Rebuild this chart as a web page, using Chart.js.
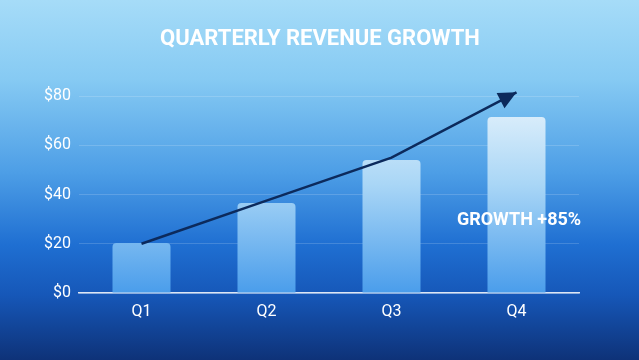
<!DOCTYPE html>
<html>
<head>
<meta charset="utf-8">
<script src="https://cdn.jsdelivr.net/npm/chart.js@4"></script>
<style>
    html, body { margin: 0; padding: 0; }
    body {
        width: 639px; height: 360px; overflow: hidden;
        background: linear-gradient(to bottom, #a6dcf8 0%, #86caf3 22%, #4d9ee6 48%, #1f6fd2 68%, #1657b8 82%, #0e3278 100%);
    }
    canvas { display: block; }
</style>
</head>
<body>
<canvas id="myChart" width="639" height="360"></canvas>
<script>
const quarters = ['Q1', 'Q2', 'Q3', 'Q4'];
const revenue = [20.3, 36.5, 54, 71.5];
const trend = [20, 37.5, 55, 81.5];
const yTicks = [0, 20, 40, 60, 80];
const title = 'QUARTERLY REVENUE GROWTH';
const note = 'GROWTH +85%';

// bar fill: light at the top, blue at the base
function barFill(context) {
    const area = context.chart.chartArea;
    if (!area) return '#8cc8f2';
    const g = context.chart.ctx.createLinearGradient(0, area.top, 0, area.bottom);
    g.addColorStop(0, '#e6f3fc');
    g.addColorStop(0.45, '#a9d6f6');
    g.addColorStop(1, '#4a9deb');
    return g;
}

// title, arrow head on the end of the trend line, growth note
const arrowPlugin = {
    id: 'arrowPlugin',
    afterDatasetsDraw(chart) {
        const ctx = chart.ctx;
        const pts = chart.getDatasetMeta(1).data;
        const a = pts[pts.length - 2], b = pts[pts.length - 1];
        const ang = Math.atan2(b.y - a.y, b.x - a.x);
        ctx.save();
        ctx.fillStyle = '#0c2a5c';
        ctx.translate(b.x, b.y);
        ctx.rotate(ang);
        ctx.beginPath();
        ctx.moveTo(0, 0);
        ctx.lineTo(-18, -8.5);
        ctx.lineTo(-18, 8.5);
        ctx.closePath();
        ctx.fill();
        ctx.restore();

        ctx.save();
        ctx.fillStyle = '#ffffff';
        ctx.textAlign = 'center';
        ctx.textBaseline = 'middle';
        ctx.font = 'bold 22px Roboto';
        ctx.fillText(title, 320, 39);
        ctx.font = 'bold 18px Roboto';
        ctx.fillText(note, 519, 220);
        ctx.restore();
    }
};

const ctx = document.getElementById('myChart').getContext('2d');
const myChart = new Chart(ctx, {
    data: {
        labels: quarters,
        datasets: [{
            type: 'bar',
            data: revenue,
            backgroundColor: barFill,
            borderRadius: 4,
            barPercentage: 0.464,
            categoryPercentage: 1,
            order: 2
        }, {
            type: 'line',
            data: trend,
            borderColor: '#0c2a5c',
            borderWidth: 2.5,
            pointRadius: 0,
            tension: 0,
            clip: false,
            order: 1
        }]
    },
    options: {
        responsive: false,
        animation: false,
        layout: { padding: { left: 0, right: 60, top: 96, bottom: 0 } },
        plugins: {
            legend: { display: false },
            tooltip: { enabled: false },
            title: { display: false }
        },
        scales: {
            x: {
                grid: { display: false },
                border: { color: 'rgba(255,255,255,0.85)', width: 1.5 },
                ticks: { color: '#ffffff', font: { family: 'Roboto', size: 16 }, padding: 1 },
                afterFit: (scale) => { scale.height = 67; }
            },
            y: {
                min: 0,
                max: 80,
                afterBuildTicks: (scale) => { scale.ticks = yTicks.map(v => ({ value: v })); },
                grid: { color: 'rgba(255,255,255,0.16)', drawTicks: false },
                border: { display: false },
                ticks: {
                    color: '#ffffff',
                    font: { family: 'Roboto', size: 16 },
                    padding: 8,
                    callback: (v) => '$' + v
                },
                afterFit: (scale) => { scale.width = 79; }
            }
        }
    },
    plugins: [arrowPlugin]
});
</script>
</body>
</html>
